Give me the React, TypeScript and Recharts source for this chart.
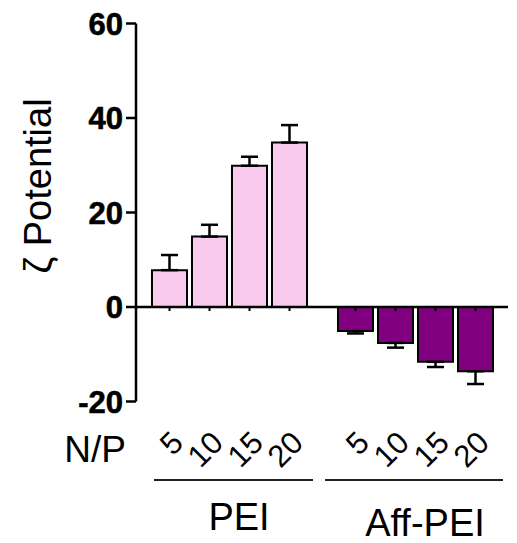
import React from 'react';
import {
  BarChart,
  Bar,
  XAxis,
  YAxis,
  ErrorBar,
  ReferenceLine,
  Rectangle,
} from 'recharts';

const npLabels = ['5', '10', '15', '20'];
const peiValues = [7.8, 14.9, 29.9, 34.8];
const peiErrors = [3.2, 2.5, 1.9, 3.7];
const affValues = [-5.1, -7.6, -11.6, -13.6];
const affErrors = [0.5, 1.0, 1.1, 2.7];
const yTicks = [-20, 0, 20, 40, 60];
const groupNames = ['PEI', 'Aff-PEI'];

const FONT = '"Liberation Sans", Arial, sans-serif';
const PINK = '#f9caee';
const PURPLE = '#800080';

const peiData = npLabels.map((np, i) => ({ np, value: peiValues[i], err: peiErrors[i] }));
const affData = npLabels.map((np, i) => ({ np, value: affValues[i], err: affErrors[i] }));

// error bar only on the outer side of the bar
const oneSidedErr = (d: any) => (d.value >= 0 ? [0, d.err] : [d.err, 0]);

// bar with the little x-axis tick at the zero line
const BarWithTick = (props: any) => {
  const { x, y, width, height, fill, value } = props;
  const v = Array.isArray(value) ? value[1] : value;
  const y1 = y;
  const y2 = y + height;
  const zeroY = v < 0 ? Math.min(y1, y2) : Math.max(y1, y2);
  const cx = x + width / 2;
  return (
    <g>
      <Rectangle x={x} y={y} width={width} height={height} fill={fill} stroke="#000" strokeWidth={2} />
      <line x1={cx} x2={cx} y1={zeroY} y2={zeroY + 4} stroke="#000" strokeWidth={2} />
    </g>
  );
};

const NpTick = (props: any) => {
  const { x, y, payload } = props;
  const px = x + 16;
  const py = y + 43;
  return (
    <text
      x={px}
      y={py}
      textAnchor="end"
      transform={`rotate(-45, ${px}, ${py})`}
      fontFamily={FONT}
      fontSize={31}
      fill="#000"
    >
      {payload.value}
    </text>
  );
};

const groupLabel = (name: string, inL: number, inR: number, textDy: number) => (props: any) => {
  const { x, y, width } = props.viewBox;
  return (
    <g>
      <line x1={x + inL} x2={x + width - inR} y1={y + 78.5} y2={y + 78.5} stroke="#222" strokeWidth={2} />
      <text x={x + 103} y={y + textDy} textAnchor="middle" fontFamily={FONT} fontSize={38} fill="#000">
        {name}
      </text>
    </g>
  );
};

const YLabel = (props: any) => {
  const { viewBox } = props;
  const cx = 51;
  const cy = viewBox.y + 162.5;
  return (
    <text
      x={cx}
      y={cy}
      textAnchor="middle"
      transform={`rotate(-90, ${cx}, ${cy})`}
      fontFamily={FONT}
      fontSize={38}
      fill="#000"
    >
      ζ Potential
    </text>
  );
};

const H = 543;
const margin = { top: 23.5, right: 0, bottom: 0, left: 0 };

export default function App() {
  return (
    <div style={{ position: 'absolute', left: 0, top: 0, width: 517, height: H, background: '#fff' }}>
      <div style={{ position: 'absolute', left: 0, top: 0 }}>
        <BarChart width={322} height={H} data={peiData} margin={margin} barSize={35}>
          <YAxis
            domain={[-20, 60]}
            ticks={yTicks}
            width={136}
            tickSize={10}
            tickMargin={3}
            axisLine={{ stroke: '#000', strokeWidth: 2.5 }}
            tickLine={{ stroke: '#000', strokeWidth: 2.5 }}
            tick={{
              fill: '#000',
              stroke: '#000',
              strokeWidth: 0.6,
              fontFamily: FONT,
              fontSize: 31,
              fontWeight: 'bold',
            }}
            label={{ content: <YLabel /> }}
          />
          <XAxis
            dataKey="np"
            interval={0}
            height={141.5}
            padding={{ left: 13, right: 13 }}
            axisLine={false}
            tickLine={false}
            tickSize={0}
            tickMargin={0}
            tick={<NpTick />}
            label={{ content: groupLabel(groupNames[0], 18, 9, 128.5) }}
          />
          <ReferenceLine y={0} stroke="#000" strokeWidth={2.5} />
          <Bar dataKey="value" fill={PINK} shape={<BarWithTick />} isAnimationActive={false}>
            <ErrorBar dataKey={oneSidedErr} width={8.5} stroke="#000" strokeWidth={2.5} />
          </Bar>
        </BarChart>
      </div>
      <div style={{ position: 'absolute', left: 322, top: 0 }}>
        <BarChart width={195} height={H} data={affData} margin={{ ...margin, right: 9 }} barSize={35}>
          <YAxis domain={[-20, 60]} ticks={yTicks} hide width={0} />
          <XAxis
            dataKey="np"
            interval={0}
            height={141.5}
            padding={{ left: 13, right: 13 }}
            axisLine={false}
            tickLine={false}
            tickSize={0}
            tickMargin={0}
            tick={<NpTick />}
            label={{ content: groupLabel(groupNames[1], 3, 5, 134.5) }}
          />
          <ReferenceLine y={0} stroke="#000" strokeWidth={2.5} />
          <Bar dataKey="value" fill={PURPLE} shape={<BarWithTick />} isAnimationActive={false}>
            <ErrorBar dataKey={oneSidedErr} width={8.5} stroke="#000" strokeWidth={2.5} />
          </Bar>
        </BarChart>
      </div>
      <svg width={517} height={H} style={{ position: 'absolute', left: 0, top: 0, pointerEvents: 'none' }}>
        <text x={126} y={462} textAnchor="end" fontFamily={FONT} fontSize={37} fill="#000">
          N/P
        </text>
      </svg>
    </div>
  );
}
